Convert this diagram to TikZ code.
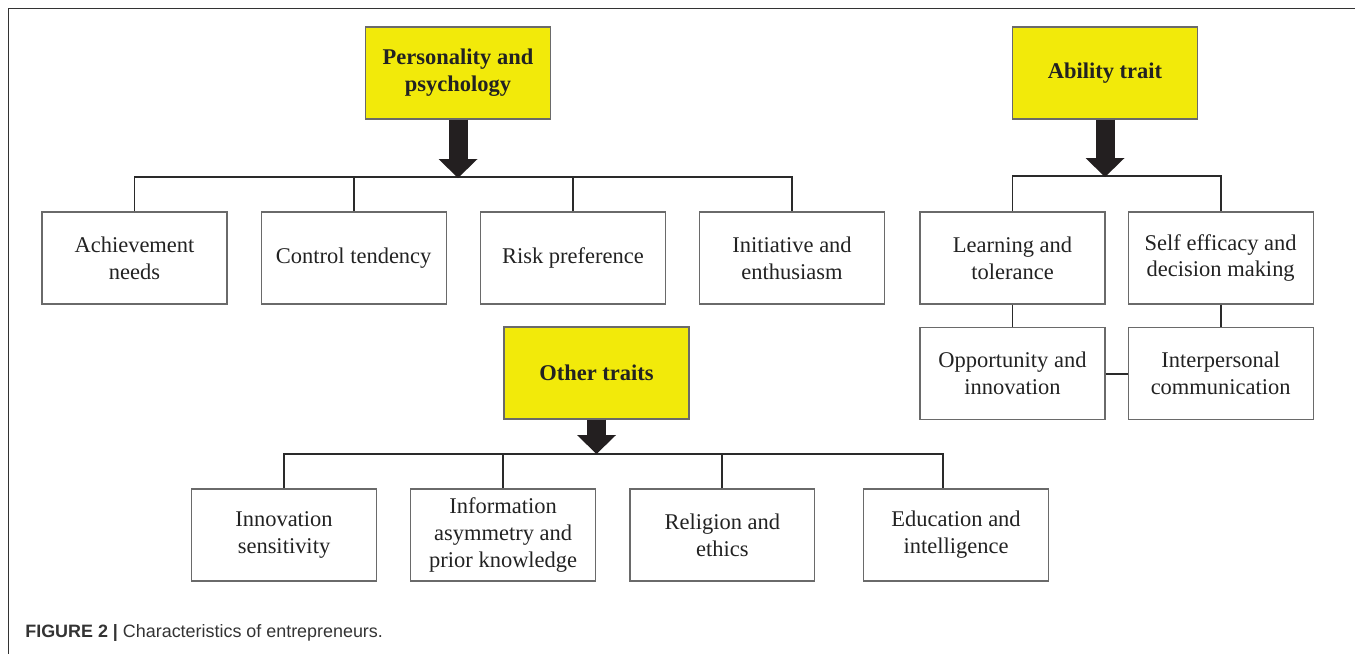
\documentclass[tikz,border=0pt]{standalone}
\usepackage{fontspec}
\setmainfont{Liberation Serif}
\newfontfamily\capfont{Liberation Sans}
\usepackage{tikz}
\usetikzlibrary{positioning,arrows.meta}
\definecolor{hdryellow}{HTML}{F2EA0A}
\definecolor{boxgray}{HTML}{6A6A6A}
\definecolor{linkdark}{HTML}{2A2A2A}
\definecolor{txtdark}{HTML}{222222}
\definecolor{capgray}{HTML}{333333}
\definecolor{arrowblk}{HTML}{231F20}

\begin{document}
\begin{tikzpicture}[x=0.02cm,y=-0.02cm,
  trait/.style={draw=boxgray, line width=0.7pt, minimum width=3.7cm, minimum height=1.84cm, inner sep=0pt, align=center, text=txtdark, font=\fontsize{12.8}{15.3}\selectfont},
  head/.style={trait, fill=hdryellow, font=\fontsize{12.8}{15.3}\selectfont\bfseries},
  link/.style={draw=linkdark, line width=1.1pt},
  fat/.style={draw=arrowblk, line width=0.38cm, -{Triangle[width=0.78cm,length=0.38cm,line width=0pt]}}]
\useasboundingbox (0,0) rectangle (1355,654);
\draw[draw=capgray, line width=1.1pt] (1355,8.5) -- (8.5,8.5) -- (8.5,654);

% personality and psychology
\node[head] (pers) at (458,73) {Personality and\\psychology};
\node[trait] (ach) at (134.5,258) {Achievement\\needs};
\node[trait, right=0.66cm of ach] (ctl) {Control tendency};
\node[trait, right=0.66cm of ctl] (risk) {Risk preference};
\node[trait, right=0.66cm of risk] (init) {Initiative and\\enthusiasm};
\coordinate (pbus) at (458,178);
\draw[link] (ach.north) -- ++(0,-34) -| (init.north);
\draw[link] (ctl.north) -- (ctl.north |- pbus) (risk.north) -- (risk.north |- pbus);
\draw[fat] (pers.south) -- (pbus);

% ability trait
\node[head] (abil) at (1105,73) {Ability trait};
\node[trait] (learn) at (1012.5,258) {Learning and\\tolerance};
\node[trait, right=0.44cm of learn] (self) {Self efficacy and\\decision making};
\node[trait, below=0.45cm of learn] (opp) {Opportunity and\\innovation};
\node[trait, below=0.45cm of self] (inter) {Interpersonal\\communication};
\coordinate (abus) at (1105,177);
\draw[link] (learn.north) -- ++(0,-35) -| (self.north);
\draw[link] (learn.south) -- (opp.north) (self.south) -- (inter.north) (opp.east) -- (inter.west);
\draw[fat] (abil.south) -- (abus);

% other traits
\node[head] (oth) at (596.5,373) {Other traits};
\node[trait] (innov) at (284,535) {Innovation\\sensitivity};
\node[trait, right=0.66cm of innov] (info) {Information\\asymmetry and\\prior knowledge};
\node[trait, right=0.66cm of info] (relig) {Religion and\\ethics};
\node[trait, right=0.95cm of relig] (edu) {Education and\\intelligence};
\coordinate (obus) at (596.5,454);
\draw[link] (innov.north) -- ++(0,-34) -| ([xshift=-0.26cm]edu.north);
\draw[link] (info.north) -- (info.north |- obus) (relig.north) -- (relig.north |- obus);
\draw[fat] (oth.south) -- (obus);

\node[anchor=base west, inner sep=0pt, text=capgray, font=\capfont\fontsize{10.2}{12}\selectfont] (cap) at (25,637) {\textbf{FIGURE 2 |} Characteristics of entrepreneurs.};
\end{tikzpicture}
\end{document}
